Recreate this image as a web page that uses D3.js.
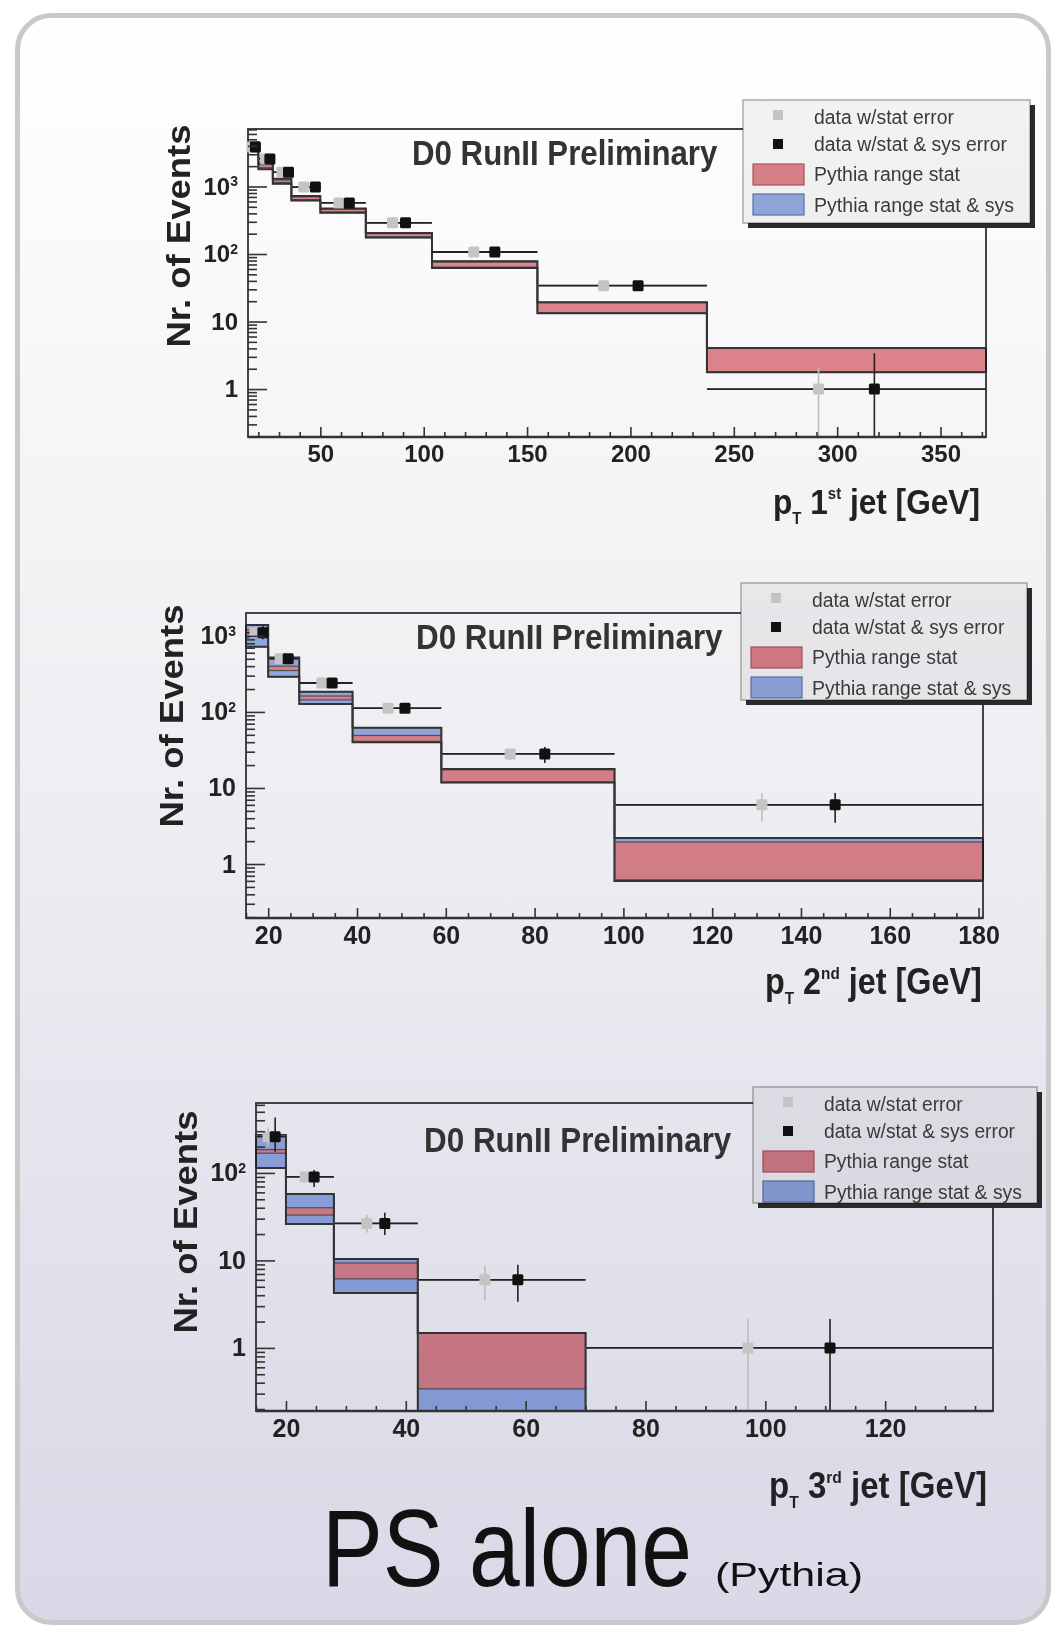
<!DOCTYPE html>
<html>
<head>
<meta charset="UTF-8">
<title>PS alone (Pythia)</title>
<script src="https://cdn.jsdelivr.net/npm/d3@7"></script>
<style>
  body { margin: 0; background: #fff; }
  svg text { font-family: "Liberation Sans", Arial, sans-serif; }
  .mult { mix-blend-mode: multiply; }
</style>
</head>
<body>
<svg id="chart" width="1053" height="1629"></svg>
<script>
// ---- pT 1st jet
var jet1Edges  = [15, 20, 27, 36, 50, 72, 104, 155, 237, 372];
var jet1Data   = [3850, 2560, 1630, 980, 570, 290, 107, 34, 1.0];
var jet1GrayX  = [16.9, 23.5, 31.4, 42, 59, 84.9, 124.2, 187, 291];
var jet1BlackX = [18.6, 25.6, 34.6, 47.6, 64, 91.2, 134.4, 203.7, 318];
var jet1StatLo = [3780, 2520, 1600, 960, 555, 282, 103, 32, 0];
var jet1StatHi = [3920, 2600, 1660, 1000, 585, 298, 111, 36, 2.1];
var jet1SysLo  = [3700, 2450, 1560, 940, 545, 275, 100, 31, 0];
var jet1SysHi  = [4000, 2680, 1700, 1020, 595, 305, 114, 37.5, 3.4];
var jet1RedLo  = [4000, 1900, 1150, 640, 420, 180, 64, 13.5, 1.8];
var jet1RedHi  = [4400, 2100, 1250, 700, 460, 200, 76, 19, 4.0];
var jet1BlueLo = [3900, 1800, 1100, 620, 410, 175, 62, 13.3, 1.78];
var jet1BlueHi = [4500, 2200, 1300, 720, 470, 205, 78, 19.3, 4.05];

// ---- pT 2nd jet
var jet2Edges  = [15, 20, 27, 39, 59, 98, 181];
var jet2Data   = [1100, 500, 240, 112, 28, 6.0];
var jet2GrayX  = [17.0, 22.7, 32.1, 47, 74.5, 131.2];
var jet2BlackX = [18.8, 24.5, 34.4, 50.8, 82.3, 147.7];
var jet2StatLo = [1000, 470, 228, 106, 23.4, 3.6];
var jet2StatHi = [1200, 530, 252, 118, 32.6, 8.5];
var jet2SysLo  = [900, 450, 215, 100, 21.3, 3.5];
var jet2SysHi  = [1350, 560, 270, 125, 34.6, 8.6];
var jet2RedLo  = [950, 350, 144, 41, 12, 0.62];
var jet2RedHi  = [1200, 400, 162, 49, 17.3, 1.95];
var jet2BlueLo = [720, 290, 127, 40, 11.8, 0.6];
var jet2BlueHi = [1390, 520, 184, 62, 17.8, 2.2];

// ---- pT 3rd jet
var jet3Edges  = [15, 20, 28, 42, 70, 138];
var jet3Data   = [260, 90, 26.5, 6.0, 1.0];
var jet3GrayX  = [17, 23.2, 33.5, 53.2, 97.1];
var jet3BlackX = [18.2, 24.7, 36.5, 58.7, 110.8];
var jet3StatLo = [200, 78, 20.7, 3.5, 0];
var jet3StatHi = [330, 102, 33, 8.7, 2.14];
var jet3SysLo  = [175, 69, 19.5, 3.36, 0];
var jet3SysHi  = [430, 108, 35, 8.9, 2.14];
var jet3RedLo  = [168, 33, 6.16, 0.34, 0];
var jet3RedHi  = [185, 40, 9.35, 1.48, 0];
var jet3BlueLo = [114, 26.1, 4.25, 0.05, 0];
var jet3BlueHi = [272, 57.5, 10.4, 1.48, 0];

var legendLabels = ["data w/stat error", "data w/stat & sys error", "Pythia range stat", "Pythia range stat & sys"];
var xTitles = [["1", "st"], ["2", "nd"], ["3", "rd"]];

var RED = "#e2868e", BLUE = "#98b0e6";

var panels = [
  { edges: jet1Edges, val: jet1Data, gx: jet1GrayX, bx: jet1BlackX,
    sLo: jet1StatLo, sHi: jet1StatHi, yLo: jet1SysLo, yHi: jet1SysHi,
    rLo: jet1RedLo, rHi: jet1RedHi, uLo: jet1BlueLo, uHi: jet1BlueHi,
    left: 248, right: 986, top: 129, bottom: 437, xDom: [15, 372], yDom: [0.195, 7100],
    xMajor: d3.range(50, 351, 50), xMinor: d3.range(20, 371, 10), yMajor: [1, 10, 100, 1000],
    tickFont: 24, title: [412, 165, 306], leg: [743, 100, 287, 123],
    xt: [773, 514, 207], yt: [190, 236] },
  { edges: jet2Edges, val: jet2Data, gx: jet2GrayX, bx: jet2BlackX,
    sLo: jet2StatLo, sHi: jet2StatHi, yLo: jet2SysLo, yHi: jet2SysHi,
    rLo: jet2RedLo, rHi: jet2RedHi, uLo: jet2BlueLo, uHi: jet2BlueHi,
    left: 246, right: 983, top: 613, bottom: 918, xDom: [15, 181], yDom: [0.195, 2000],
    xMajor: d3.range(20, 181, 20), xMinor: d3.range(15, 181, 5), yMajor: [1, 10, 100, 1000],
    tickFont: 25, title: [416, 649, 307], leg: [741, 583, 286, 117],
    xt: [765, 994, 217], yt: [183, 716] },
  { edges: jet3Edges, val: jet3Data, gx: jet3GrayX, bx: jet3BlackX,
    sLo: jet3StatLo, sHi: jet3StatHi, yLo: jet3SysLo, yHi: jet3SysHi,
    rLo: jet3RedLo, rHi: jet3RedHi, uLo: jet3BlueLo, uHi: jet3BlueHi,
    left: 256, right: 993, top: 1103, bottom: 1411, xDom: [15, 138], yDom: [0.19, 630],
    xMajor: d3.range(20, 121, 20), xMinor: d3.range(15, 136, 5), yMajor: [1, 10, 100],
    tickFont: 25, title: [424, 1152, 308], leg: [753, 1087, 284, 116],
    xt: [769, 1498, 218], yt: [197, 1222] }
];

var svg = d3.select("#chart");
var defs = svg.append("defs");
var grad = defs.append("linearGradient").attr("id", "bg")
  .attr("gradientUnits", "userSpaceOnUse")
  .attr("x1", 0).attr("y1", 15).attr("x2", 0).attr("y2", 1625);
grad.append("stop").attr("offset", "0%").attr("stop-color", "#ffffff");
grad.append("stop").attr("offset", "45%").attr("stop-color", "#efeff3");
grad.append("stop").attr("offset", "100%").attr("stop-color", "#d8d8e7");

svg.append("rect")
  .attr("x", 17.5).attr("y", 15.5).attr("width", 1031).attr("height", 1607)
  .attr("rx", 34).attr("fill", "url(#bg)")
  .attr("stroke", "#c9c9c9").attr("stroke-width", 5);

// squeeze a text group horizontally to a given width
function fitWidth(g, x, y, w) {
  var bw = g.node().getBBox().width;
  g.attr("transform", "translate(" + x + "," + y + ") scale(" + (w / bw) + ",1)");
}

panels.forEach(function(p, pi) {
  var x = d3.scaleLinear().domain(p.xDom).range([p.left, p.right]);
  var y = d3.scaleLog().domain(p.yDom).range([p.bottom, p.top]);
  var yc = function(v) { return y(Math.max(v, p.yDom[0])); };
  var g = svg.append("g");

  // frame
  g.append("rect")
    .attr("x", p.left).attr("y", p.top)
    .attr("width", p.right - p.left).attr("height", p.bottom - p.top)
    .attr("fill", "none").attr("stroke", "#444").attr("stroke-width", 2);

  // pythia bands
  var bins = p.val.map(function(d, i) { return i; });
  var bands = g.append("g").attr("class", "mult");
  [[p.uLo, p.uHi, BLUE], [p.rLo, p.rHi, RED]].forEach(function(b) {
    bands.selectAll(null).data(bins.filter(function(i) { return b[1][i] > p.yDom[0]; }))
      .enter().append("rect")
      .attr("x", function(i) { return x(p.edges[i]); })
      .attr("width", function(i) { return x(p.edges[i + 1]) - x(p.edges[i]); })
      .attr("y", function(i) { return yc(b[1][i]); })
      .attr("height", function(i) { return yc(b[0][i]) - yc(b[1][i]); })
      .attr("fill", b[2]).attr("stroke", "#555").attr("stroke-width", 1.2);
  });

  // step outlines of the envelope
  var line = d3.line().x(function(d) { return x(d[0]); }).y(function(d) { return yc(d[1]); });
  [p.uLo, p.uHi].forEach(function(arr) {
    var pts = [];
    arr.forEach(function(v, i) { pts.push([p.edges[i], v]); pts.push([p.edges[i + 1], v]); });
    g.append("path").attr("d", line(pts)).attr("fill", "none")
      .attr("stroke", "#333").attr("stroke-width", 2);
  });

  // data: horizontal bars, vertical errors, markers
  var dat = g.append("g");
  var series = [[p.gx, p.sLo, p.sHi, "#bdbdbd", "#c4c4c4"], [p.bx, p.yLo, p.yHi, "#222", "#111"]];
  series.forEach(function(s) {
    dat.selectAll(null).data(bins).enter().append("line")
      .attr("x1", function(i) { return x(p.edges[i]); })
      .attr("x2", function(i) { return x(p.edges[i + 1]); })
      .attr("y1", function(i) { return y(p.val[i]); })
      .attr("y2", function(i) { return y(p.val[i]); })
      .attr("stroke", s[3]).attr("stroke-width", 1.8);
  });
  series.forEach(function(s) {
    dat.selectAll(null).data(bins).enter().append("line")
      .attr("x1", function(i) { return x(s[0][i]); })
      .attr("x2", function(i) { return x(s[0][i]); })
      .attr("y1", function(i) { return yc(s[1][i]); })
      .attr("y2", function(i) { return yc(s[2][i]); })
      .attr("stroke", s[3]).attr("stroke-width", 1.6);
    dat.selectAll(null).data(bins).enter().append("rect")
      .attr("x", function(i) { return x(s[0][i]) - 5.5; })
      .attr("y", function(i) { return y(p.val[i]) - 5.5; })
      .attr("width", 11).attr("height", 11).attr("rx", 1.5)
      .attr("fill", s[4]);
  });

  // axes (ROOT style, ticks inward)
  g.append("g").attr("transform", "translate(0," + p.bottom + ")")
    .call(d3.axisBottom(x).tickValues(p.xMajor).tickSize(-10).tickPadding(8).tickFormat(d3.format("d")));
  g.append("g").attr("transform", "translate(0," + p.bottom + ")")
    .call(d3.axisBottom(x).tickValues(p.xMinor.filter(function(v) { return p.xMajor.indexOf(v) < 0; }))
      .tickSize(-5).tickFormat(""));
  var yMinor = [];
  d3.range(-1, 4).forEach(function(e) {
    d3.range(2, 10).forEach(function(k) {
      var v = k * Math.pow(10, e);
      if (v > p.yDom[0] && v < p.yDom[1]) yMinor.push(v);
    });
  });
  var yAx = g.append("g").attr("transform", "translate(" + p.left + ",0)")
    .call(d3.axisLeft(y).tickValues(p.yMajor).tickSize(-19).tickPadding(10)
      .tickFormat(function(d) { return d < 100 ? String(d) : "10"; }));
  g.append("g").attr("transform", "translate(" + p.left + ",0)")
    .call(d3.axisLeft(y).tickValues(yMinor).tickSize(-9).tickFormat(""));
  g.selectAll(".domain").remove();
  g.selectAll(".tick line").attr("stroke", "#333").attr("stroke-width", 1.6);
  g.selectAll(".tick text").attr("font-size", p.tickFont).attr("font-weight", "bold")
    .attr("fill", "#222").attr("font-family", "Liberation Sans, Arial, sans-serif");
  yAx.selectAll(".tick text").filter(function(d) { return d >= 100; })
    .append("tspan").attr("dy", "-0.6em").attr("font-size", 14)
    .text(function(d) { return Math.round(Math.log10(d)); });

  // bottom axis line a bit heavier
  g.append("line").attr("x1", p.left).attr("x2", p.right)
    .attr("y1", p.bottom).attr("y2", p.bottom).attr("stroke", "#333").attr("stroke-width", 2.5);

  // D0 label
  var tg = g.append("g");
  tg.append("text").attr("font-size", 35).attr("font-weight", "bold").attr("fill", "#333")
    .text("D0 RunII Preliminary");
  fitWidth(tg, p.title[0], p.title[1], p.title[2]);

  // y title
  g.append("text")
    .attr("transform", "translate(" + p.yt[0] + "," + p.yt[1] + ") rotate(-90)")
    .attr("text-anchor", "middle").attr("font-size", 34).attr("font-weight", "bold")
    .attr("fill", "#222").attr("textLength", 223).attr("lengthAdjust", "spacingAndGlyphs")
    .text("Nr. of Events");

  // x title
  var xg = g.append("g");
  var xt = xg.append("text").attr("font-size", 36).attr("font-weight", "bold").attr("fill", "#222");
  xt.append("tspan").text("p");
  xt.append("tspan").attr("font-size", 17).attr("dy", 10).text("T");
  xt.append("tspan").attr("dy", -10).text(" " + xTitles[pi][0]);
  xt.append("tspan").attr("font-size", 17).attr("dy", -15).text(xTitles[pi][1]);
  xt.append("tspan").attr("dy", 15).text(" jet [GeV]");
  fitWidth(xg, p.xt[0], p.xt[1], p.xt[2]);

  // legend with drop shadow, covering the frame
  var L = p.leg;
  g.append("rect").attr("x", L[0] + L[2]).attr("y", L[1] + 5).attr("width", 5).attr("height", L[3])
    .attr("fill", "#2a2a2a");
  g.append("rect").attr("x", L[0] + 5).attr("y", L[1] + L[3]).attr("width", L[2]).attr("height", 5)
    .attr("fill", "#2a2a2a");
  g.append("rect").attr("x", L[0]).attr("y", L[1]).attr("width", L[2]).attr("height", L[3])
    .attr("fill", "url(#bg)");
  var lg = g.append("g").attr("transform", "translate(" + L[0] + "," + L[1] + ")");
  lg.append("rect").attr("width", L[2]).attr("height", L[3]).attr("class", "mult")
    .attr("fill", "#f4f4f4").attr("stroke", "#9a9a9a").attr("stroke-width", 1.2);
  lg.append("rect").attr("x", 30).attr("y", 10).attr("width", 10).attr("height", 10).attr("fill", "#c4c4c4");
  lg.append("rect").attr("x", 30).attr("y", 39).attr("width", 10).attr("height", 10).attr("fill", "#111");
  lg.append("rect").attr("x", 10).attr("y", 64).attr("width", 51).attr("height", 21)
    .attr("class", "mult").attr("fill", RED).attr("stroke", "#b85560").attr("stroke-width", 1.2);
  lg.append("rect").attr("x", 10).attr("y", 94).attr("width", 51).attr("height", 21)
    .attr("class", "mult").attr("fill", BLUE).attr("stroke", "#5d78b0").attr("stroke-width", 1.2);
  var base = [24, 51, 81, 112], widths = [140, 193, 146, 200];
  legendLabels.forEach(function(t, i) {
    lg.append("text").attr("x", 71).attr("y", base[i]).attr("font-size", 20).attr("fill", "#3a3a3a")
      .attr("textLength", widths[i] * (L[2] / 287)).attr("lengthAdjust", "spacingAndGlyphs")
      .text(t);
  });
});

// caption
var cg = svg.append("g");
cg.append("text").attr("font-family", "Lato, 'Open Sans', sans-serif").attr("fill", "#111")
  .attr("font-size", 110).text("PS alone");
var cg2 = svg.append("g");
cg2.append("text").attr("font-family", "Lato, 'Open Sans', sans-serif").attr("fill", "#111")
  .attr("font-size", 34).text("(Pythia)");
fitWidth(cg, 322, 1586, 370);
fitWidth(cg2, 715, 1586, 148);
</script>
</body>
</html>
